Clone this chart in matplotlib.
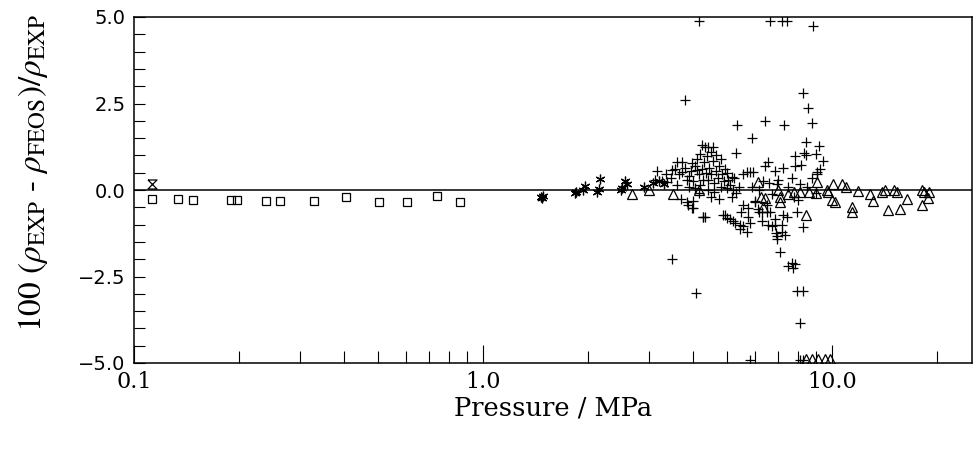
import matplotlib
matplotlib.use("Agg")
import matplotlib.pyplot as plt
from matplotlib.ticker import FixedLocator, MultipleLocator, NullFormatter

# ---------------- data (pressure in MPa, deviation in %) ----------------
sq_p = [0.1126, 0.1337, 0.1476, 0.1896, 0.197, 0.239, 0.262, 0.328, 0.405,
        0.503, 0.606, 0.738, 0.859]
sq_d = [-0.25, -0.25, -0.29, -0.29, -0.29, -0.32, -0.32, -0.31, -0.21,
        -0.34, -0.34, -0.16, -0.34]

hg_p = [0.1126]
hg_d = [0.17]

ast_p = [1.47, 1.49, 1.48, 1.83, 1.85, 1.96, 1.93, 2.12, 2.16, 2.15, 2.5, 2.55,
         2.58, 2.48, 3.08, 3.2, 3.3, 2.9]
ast_d = [-0.2, -0.17, -0.22, -0.1, -0.07, 0.11, 0.0, -0.07, 0.33, 0.04, 0.07, 0.25,
         0.16, 0.0, 0.2, 0.25, 0.18, 0.1]

tri_p = [2.67, 2.99, 3.5, 4.16, 6.14, 6.25, 6.43, 6.35, 7.1, 7.1, 7.0, 7.48, 8.1,
         8.45, 8.98, 9.06, 9.75, 10.0, 10.2, 10.1, 10.7, 11.0, 11.4, 11.4, 11.86,
         12.85, 13.1, 13.9, 14.2, 14.5, 15.1, 15.4, 15.7, 16.4, 18.1, 18.3, 18.1,
         18.8, 19.0, 9.7, 7.8, 8.6,
         8.4, 8.77, 9.12, 9.55, 9.86]
tri_d = [-0.13, 0.0, -0.13, 0.0, 0.22, -0.19, -0.22, -0.48, -0.19, -0.36, 0.0, -0.13, -0.07,
         -0.71, -0.1, 0.22, -0.07, -0.3, -0.36, 0.16, 0.16, 0.1, -0.48, -0.65, -0.04,
         -0.13, -0.33, -0.07, -0.01, -0.59, -0.01, -0.07, -0.56, -0.27, -0.01, -0.07, -0.42,
         -0.22, -0.07, 0.0, -0.07, -0.07,
         -4.87, -4.87, -4.87, -4.87, -4.87]

plus_p = [4.16, 6.64, 7.19, 7.43, 8.83,
          3.79, 8.26, 8.53, 8.77, 5.34, 6.43, 7.28, 5.9, 5.31, 8.43, 9.18, 8.3, 8.98,
          9.42, 7.83, 8.45, 6.56, 6.43, 6.87, 7.24, 7.83, 8.18, 9.23, 5.82, 5.17, 7.67,
          9.04, 3.15,
          4.24, 4.41, 4.33, 4.55, 4.38, 4.2, 4.5,
          3.6, 3.73, 3.97, 3.48, 3.11, 3.25, 3.36, 3.73, 4.11, 3.84, 4.28, 4.05, 3.7,
          3.87, 4.0, 4.28, 4.5,
          3.55, 3.65, 3.8, 3.9, 3.95, 4.0, 4.05, 4.15, 4.2, 4.25, 4.3, 4.35, 4.4, 4.45,
          4.5, 4.55, 4.6, 4.65, 4.7, 4.75, 4.8, 4.85, 4.9, 4.95, 5.0, 5.05, 5.1, 5.2,
          5.3, 5.4, 4.6, 4.4, 4.15, 3.9, 3.6, 3.45, 5.0, 5.25, 4.8, 4.65, 4.1, 3.35,
          3.85, 3.97, 3.99, 4.07, 3.48, 4.27,
          4.74, 5.17, 4.86, 5.0, 5.2, 5.44, 5.55, 5.74, 6.0, 6.14, 6.3, 6.5, 6.64, 6.72,
          7.24, 6.87, 4.33, 7.19,
          4.93, 5.1, 5.27, 5.44, 5.55, 5.7, 5.82, 5.5, 5.74, 6.0, 6.19, 6.3, 6.5, 6.56,
          6.72, 6.87, 6.92, 6.96, 7.19, 7.1, 6.96, 7.33, 7.43, 7.93, 8.26, 8.1, 8.77, 9.06,
          7.48, 7.67, 7.83, 7.73, 7.93, 8.26, 8.1,
          5.82, 8.1, 8.26,
          5.7, 5.95, 5.55, 6.35, 6.96, 5.9, 6.2, 6.6, 7.0, 7.5, 7.8, 8.0, 8.5, 9.0]
plus_d = [4.88, 4.88, 4.88, 4.88, 4.75,
          2.59, 2.79, 2.38, 1.95, 1.89, 2.0, 1.89, 1.49, 1.08, 1.4, 1.26, 1.08, 1.03,
          0.85, 0.97, 1.0, 0.82, 0.68, 0.56, 0.65, 0.68, 0.71, 0.62, 0.51, 0.39, 0.36,
          0.45, 0.56,
          1.29, 1.23, 1.25, 1.25, 0.97, 1.05, 1.1,
          0.82, 0.82, 0.79, 0.59, 0.3, 0.25, 0.22, 0.51, 0.59, 0.3, 0.3, 0.07, -0.27,
          -0.42, -0.51, -0.77, -0.19,
          0.6, 0.45, 0.65, 0.4, 0.55, 0.25, 0.7, 0.45, 0.15, 0.6, 0.8, 0.5, 0.3, 0.65,
          0.45, 0.85, 0.2, 0.55, 0.35, 0.7, 0.1, 0.45, 0.25, 0.6, 0.05, 0.3, 0.15, 0.0,
          -0.1, 0.1, -0.05, 0.0, -0.1, 0.1, 0.15, 0.35, 0.5, 0.35, 0.9, 1.0, 0.9, 0.45,
          -0.36, -0.51, -0.33, -2.99, -1.98, -0.79,
          -0.27, -0.19, -0.71, -0.8, -0.91, -1.0, -0.42, -0.77, -0.36, -0.56, -0.65, -0.42, -0.65, -0.13,
          -0.71, -1.0, -0.77, -1.0,
          -0.71, -0.85, -0.94, -1.14, -1.05, -1.2, -0.94, -0.65, -0.51, -0.33, -0.65, -0.91, -0.65, -1.0,
          -1.05, -0.85, -1.23, -1.43, -1.2, -1.78, -1.34, -1.29, -0.77, -0.65, -1.08, 0.16, 0.36, 0.53,
          -2.21, -2.1, -2.15, -2.24, -2.93, -2.93, -3.83,
          -4.9, -4.9, -4.9,
          0.53, 0.53, 0.45, 0.25, 0.16, 0.1, 0.0, 0.2, 0.3, 0.1, -0.2, -0.3, 0.1, -0.1]

x_ticks = [0.1, 1.0, 10.0]
x_ticklabels = ["0.1", "1.0", "10.0"]
y_ticks = [-5.0, -2.5, 0.0, 2.5, 5.0]
y_ticklabels = ["\u22125.0", "\u22122.5", "0.0", "2.5", "5.0"]

# ---------------- figure ----------------
plt.rcParams['mathtext.fontset'] = 'stix'
fig = plt.figure(figsize=(9.76, 4.51), dpi=100)
ax = fig.add_axes([134 / 976, 1 - 363 / 451, 838 / 976, 346 / 451])

ax.set_xscale('log')
ax.set_xlim(0.1, 25.2)
ax.set_ylim(-5.0, 5.0)

ax.axhline(0.0, color='black', lw=1.1, zorder=1)

common = dict(linestyle='none', color='black', mfc='none', mew=0.9, zorder=2)
ax.plot(sq_p, sq_d, marker='s', ms=6.3, **common)
hourglass = [(-1, 1), (1, 1), (-1, -1), (1, -1), (-1, 1)]
ax.plot(hg_p, hg_d, marker=hourglass, ms=6.5, **common)
ax.plot(ast_p, ast_d, marker=(6, 2, 0), ms=7, **common)
ax.plot(tri_p, tri_d, marker='^', ms=7.2, **common)
ax.plot(plus_p, plus_d, marker='+', ms=6.5, **common)

for s in ax.spines.values():
    s.set_linewidth(1.1)

ax.xaxis.set_major_locator(FixedLocator(x_ticks))
ax.xaxis.set_minor_locator(FixedLocator([0.2, 0.3, 0.4, 0.5, 0.6, 0.7, 0.8, 0.9,
                                         2, 3, 4, 5, 6, 7, 8, 9, 20]))
ax.xaxis.set_minor_formatter(NullFormatter())
ax.set_xticklabels(x_ticklabels, family='DejaVu Serif', fontsize=16)
ax.set_yticks(y_ticks)
ax.set_yticklabels(y_ticklabels, family='DejaVu Sans', fontsize=14)
ax.yaxis.set_minor_locator(MultipleLocator(0.5))

ax.tick_params(axis='both', which='both', direction='in', top=False, right=False,
               color='black', width=0.8)
ax.tick_params(axis='x', which='major', length=13, pad=6)
ax.tick_params(axis='x', which='minor', length=8.6)
ax.tick_params(axis='y', which='both', length=8, pad=6)

ax.set_xlabel("Pressure / MPa", family='DejaVu Serif', fontsize=18.5)
ax.xaxis.set_label_coords(0.5, -0.095)
ax.set_ylabel(r"100 ($\rho_{\rm EXP}$ - $\rho_{\rm FEOS}$)/$\rho_{\rm EXP}$",
              family='STIXGeneral', fontsize=24)
ax.yaxis.set_label_coords(-0.10, 0.55)

fig.savefig("out.png", dpi=100)
